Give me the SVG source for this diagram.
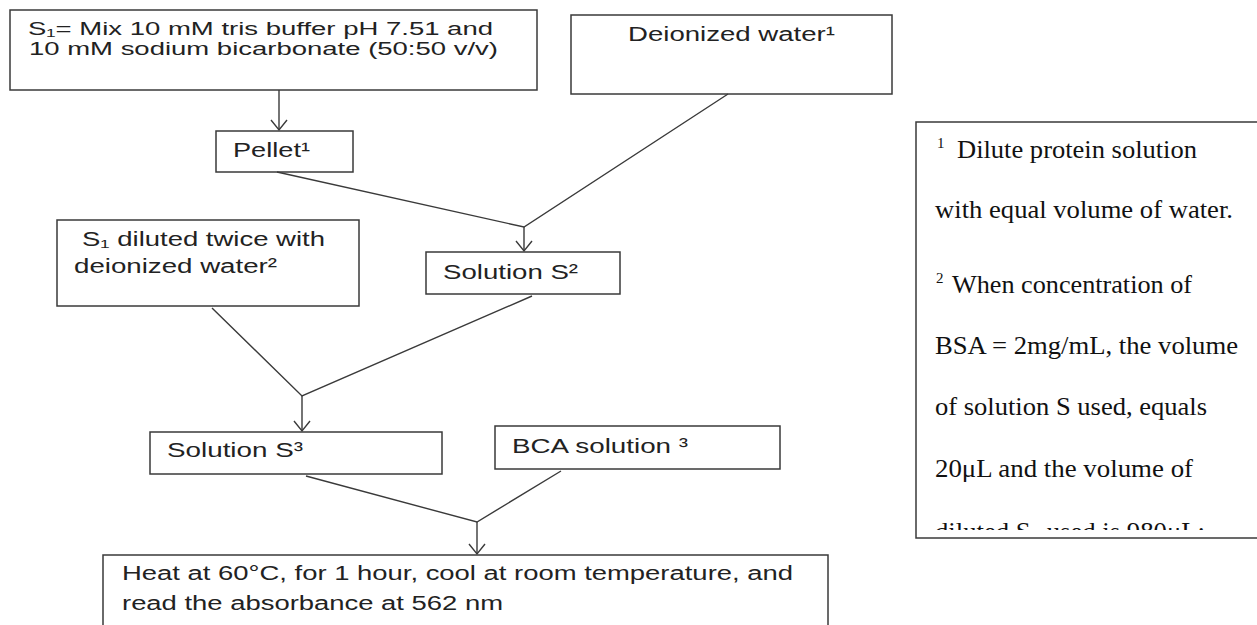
<svg xmlns="http://www.w3.org/2000/svg" width="1257" height="625" viewBox="0 0 1257 625">
<style>
.box{fill:#fff;stroke:#3a3a3a;stroke-width:1.5}
.t{font-family:"Liberation Sans",Arial,sans-serif;font-size:20px;fill:#222}
.s{font-size:17.5px}
.n{font-family:"Liberation Serif","Times New Roman",serif;font-size:25px;fill:#111}
.c{fill:none;stroke:#3a3a3a;stroke-width:1.4}
</style>
<defs>
<marker id="ah" markerUnits="userSpaceOnUse" markerWidth="24" markerHeight="24" refX="12" refY="12" orient="auto" viewBox="0 0 24 24">
<path d="M2,4 L12,12 L2,20" fill="none" stroke="#3a3a3a" stroke-width="1.4"/>
</marker>
<clipPath id="noteclip"><rect x="916" y="122" width="345" height="408"/></clipPath>
</defs>
<rect width="1257" height="625" fill="#fff"/>

<g id="s1">
<rect class="box" x="10" y="10" width="527" height="80"/>
<text class="t s" x="28" y="35" textLength="465" lengthAdjust="spacingAndGlyphs">S₁= Mix 10 mM tris buffer pH 7.51 and</text>
<text class="t s" x="29" y="55" textLength="469" lengthAdjust="spacingAndGlyphs">10 mM sodium bicarbonate (50:50 v/v)</text>
</g>

<g id="deionized">
<rect class="box" x="571" y="15" width="321" height="79"/>
<text class="t" x="628" y="41" textLength="207" lengthAdjust="spacingAndGlyphs">Deionized water¹</text>
</g>

<g id="pellet">
<rect class="box" x="216" y="131" width="137" height="41"/>
<text class="t" x="233" y="157" textLength="77" lengthAdjust="spacingAndGlyphs">Pellet¹</text>
</g>

<g id="s1diluted">
<rect class="box" x="57" y="220" width="302" height="86"/>
<text class="t" x="82" y="246" textLength="243" lengthAdjust="spacingAndGlyphs">S₁ diluted twice with</text>
<text class="t" x="74" y="273" textLength="203" lengthAdjust="spacingAndGlyphs">deionized water²</text>
</g>

<g id="solS2">
<rect class="box" x="426" y="252" width="194" height="42"/>
<text class="t" x="443" y="279" textLength="135" lengthAdjust="spacingAndGlyphs">Solution S²</text>
</g>

<g id="solS3">
<rect class="box" x="150" y="432" width="292" height="42"/>
<text class="t" x="167" y="457" textLength="136" lengthAdjust="spacingAndGlyphs">Solution S³</text>
</g>

<g id="bca">
<rect class="box" x="495" y="426" width="285" height="43"/>
<text class="t" x="512" y="453" textLength="176" lengthAdjust="spacingAndGlyphs">BCA solution ³</text>
</g>

<g id="heat">
<rect class="box" x="103" y="555" width="725" height="80"/>
<text class="t" x="122" y="580" textLength="671" lengthAdjust="spacingAndGlyphs">Heat at 60°C, for 1 hour, cool at room temperature, and</text>
<text class="t" x="122" y="610" textLength="381" lengthAdjust="spacingAndGlyphs">read the absorbance at 562 nm</text>
</g>

<g id="notes">
<rect class="box" x="916" y="122" width="345" height="416"/>
<g clip-path="url(#noteclip)">
<text class="n" x="937" y="158"><tspan font-size="15" dy="-10">1</tspan><tspan x="957" dy="10" textLength="240" lengthAdjust="spacingAndGlyphs">Dilute protein solution</tspan></text>
<text class="n" x="935" y="218" textLength="298" lengthAdjust="spacingAndGlyphs">with equal volume of water.</text>
<text class="n" x="936" y="293"><tspan font-size="15" dy="-10">2</tspan><tspan x="952" dy="10" textLength="240" lengthAdjust="spacingAndGlyphs">When concentration of</tspan></text>
<text class="n" x="935" y="354" textLength="303" lengthAdjust="spacingAndGlyphs">BSA = 2mg/mL, the volume</text>
<text class="n" x="935" y="415" textLength="272" lengthAdjust="spacingAndGlyphs">of solution S used, equals</text>
<text class="n" x="935" y="477" textLength="258" lengthAdjust="spacingAndGlyphs">20μL and the volume of</text>
<text class="n" x="935" y="540" textLength="270" lengthAdjust="spacingAndGlyphs">diluted S₁ used is 980μL;</text>
</g>
</g>

<g id="connectors">
<line class="c" x1="279" y1="90" x2="279" y2="130" marker-end="url(#ah)"/>
<polyline class="c" points="277,172 524,227 728,94"/>
<line class="c" x1="524" y1="227" x2="524" y2="251" marker-end="url(#ah)"/>
<polyline class="c" points="212,308 302,396 532,296"/>
<line class="c" x1="302" y1="396" x2="302" y2="431" marker-end="url(#ah)"/>
<polyline class="c" points="306,476 477,522 561,471"/>
<line class="c" x1="477" y1="522" x2="477" y2="554" marker-end="url(#ah)"/>
</g>
</svg>
